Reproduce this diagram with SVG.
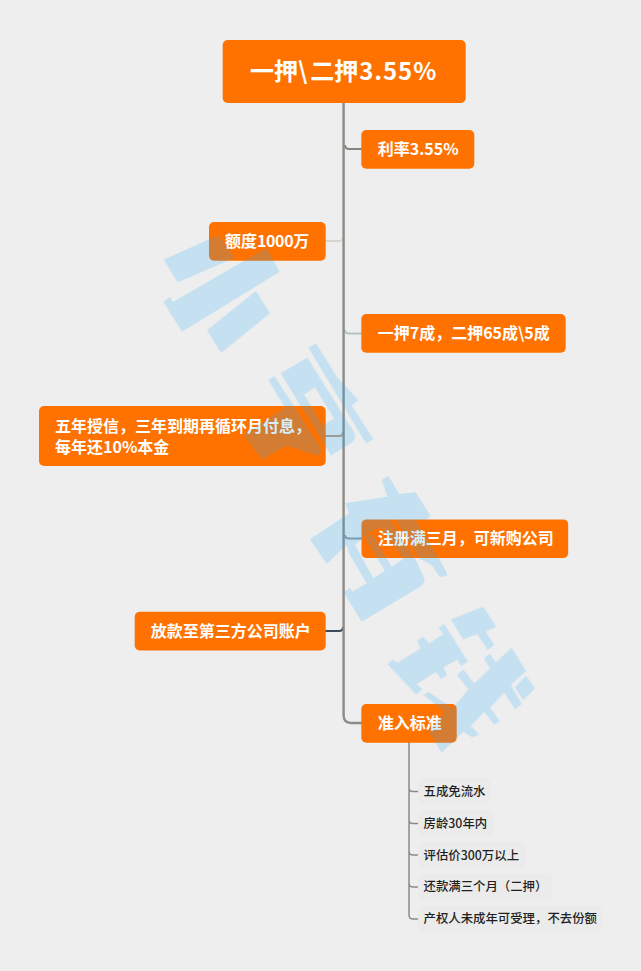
<svg xmlns="http://www.w3.org/2000/svg" width="641" height="971" viewBox="0 0 641 971">
<style>
text{font-family:"Noto Sans CJK SC","Noto Sans",sans-serif}
.n{fill:#ff7200}
.t{fill:#fff;font-size:16px;font-weight:700}
.c{fill:none;stroke-linecap:butt}
.p{fill:#ebebeb}
.s{fill:#1f1f1f;font-size:12.4px;font-weight:500}
</style>
<rect width="641" height="971" fill="#eeeeee"/>
<g id="connectors" class="c">
<path d="M409 742V915Q409 919 413 919H418M409 787.5Q409 791.5 413 791.5H418M409 819.5Q409 823.5 413 823.5H418M409 851Q409 855 413 855H418M409 883Q409 887 413 887H418" stroke="#8d8b85" stroke-width="1.5"/>
<path d="M345 145Q345 149 349 149H362" stroke="#85857d" stroke-width="2"/>
<path d="M343 237Q343 241 339 241H325" stroke="#d8d5cc" stroke-width="2"/>
<path d="M345 330Q345 333.5 349 333.5H362" stroke="#b0c6bd" stroke-width="2"/>
<path d="M343 432Q343 436 339 436H325" stroke="#c09484" stroke-width="2"/>
<path d="M345 535Q345 538.5 349 538.5H362" stroke="#8c9a9e" stroke-width="2"/>
<path d="M343 627Q343 631 339 631H325" stroke="#3e4a5c" stroke-width="2"/>
<path d="M343.6 103V715Q343.6 723 351 723H362" stroke="#8d8b85" stroke-width="2.4"/>
</g>
<g id="root"><rect class="n" x="222.7" y="40" width="243" height="63" rx="5"/><text x="250" y="80.3" fill="#fff" font-size="24" font-weight="700">一押\<tspan dx="3">二押</tspan><tspan dx="1" letter-spacing=".9">3.55%</tspan></text></g>
<g id="n1"><rect class="n" x="361.3" y="130" width="113" height="38.7" rx="5"/><text class="t" x="377.7" y="155">利率<tspan letter-spacing="0">3.55%</tspan></text></g>
<g id="n2"><rect class="n" x="209" y="222" width="116.7" height="38.7" rx="5"/><text class="t" x="225" y="247">额度<tspan letter-spacing="-.4">1000</tspan>万</text></g>
<g id="n3"><rect class="n" x="361.3" y="314" width="204.4" height="38.7" rx="5"/><text class="t" x="377.7" y="339">一押7成，二押65成\5成</text></g>
<g id="n4"><rect class="n" x="39" y="406" width="286.7" height="60" rx="5"/><text class="t"><tspan x="55" y="432.4">五年授信，三年到期再循环月付息，</tspan><tspan x="55" y="453">每年还10%本金</tspan></text></g>
<g id="n5"><rect class="n" x="361.5" y="519.4" width="206.7" height="38.7" rx="5"/><text class="t" x="377.7" y="544.4">注册满三月，可新购公司</text></g>
<g id="n6"><rect class="n" x="134.7" y="611.7" width="191" height="38.7" rx="5"/><text class="t" x="150.7" y="636.7">放款至第三方公司账户</text></g>
<g id="n7"><rect class="n" x="361.3" y="704" width="95.4" height="38.7" rx="5"/><text class="t" x="377.7" y="729">准入标准</text></g>
<g id="c1"><rect class="p" x="418" y="778.3" width="72.7" height="25.7" rx="5"/><text class="s" x="423.5" y="795.8">五成免流水</text></g>
<g id="c2"><rect class="p" x="418" y="810" width="76" height="26" rx="5"/><text class="s" x="423.5" y="827.6">房龄30年内</text></g>
<g id="c3"><rect class="p" x="418" y="842.3" width="107.7" height="26" rx="5"/><text class="s" x="423.5" y="859.6">评估价300万以上</text></g>
<g id="c4"><rect class="p" x="418" y="874" width="134.3" height="26" rx="5"/><text class="s" x="423.5" y="891.4">还款满三个月（二押）</text></g>
<g id="c5"><rect class="p" x="418" y="906" width="184.3" height="25.7" rx="5"/><text class="s" x="423.5" y="923.4">产权人未成年可受理，不去份额</text></g>
<g id="watermark" fill="#1eaaff" opacity=".2">
<g transform="translate(155 225) scale(.3333)">
<path d="M26 104L190 30L240 98L68 172Z"/>
<path d="M25 230L44 216L54 231L335 68L374 140L81 320Z"/>
<path d="M156 316L303 198L345 265L198 384Z"/>
</g>
<g transform="translate(230 335) scale(.3333)">
<path d="M115 135L133 123L270 335Q278 350 268 358Q262 364 250 358L170 332L95 373L40 297L165 218Z"/>
<path fill-rule="evenodd" d="M152 115L232 68L368 285Q382 305 368 320L303 362ZM222 178L255 157L312 250L279 272Z"/>
<path d="M235 38L258 25L320 125L385 195L365 212L430 312L408 325Z"/>
</g>
<g transform="translate(300 470) scale(.3333)">
<path d="M30 208L148 130L135 100L262 80L245 30L265 18L298 72L347 67L392 138L372 152L345 148L270 148L240 160L165 225L180 255L150 255L140 225L80 282Z"/>
<path d="M140 215L185 148L270 148L345 265L372 322Q378 338 360 350L185 455L130 365L150 355L157 365L200 340L150 255L165 225L220 325L255 302L195 205L215 190L275 290L310 267L245 175L235 175Z"/>
<path d="M285 148L345 148L417 265L443 315L420 322L395 285L357 265Z"/>
</g>
<g transform="translate(380 600) scale(.3333)">
<path d="M22 192L38 178L52 188L122 145L112 122L128 110L148 130L190 102L176 84L192 72L264 185L243 198L232 178L190 202L202 226L182 237L168 216L110 252L127 268L108 283Z"/>
<path d="M212 58L310 20L348 80L317 95L343 135L323 150L292 102L250 118Z"/>
<path d="M130 285L146 276L218 325L265 268L231 225L250 208L283 250L330 205L312 175L330 162L348 187L395 143L438 213L392 255L425 312L405 328L373 278L330 322L360 365L342 373L313 335L272 378L297 403L277 412L250 395L185 458L145 392L195 335Z"/>
<path d="M405 262L438 227L465 265L430 300Z"/>
</g>
</g>
</svg>
